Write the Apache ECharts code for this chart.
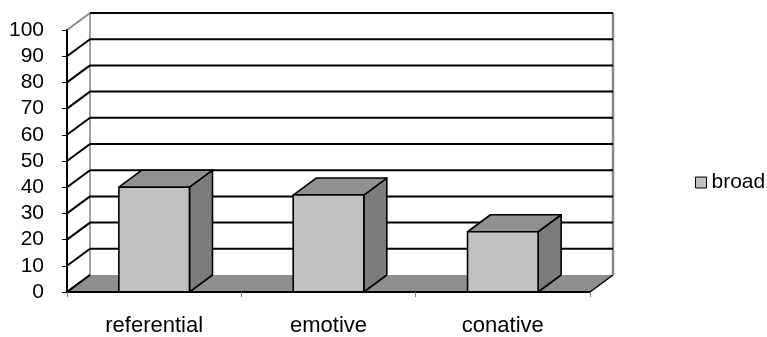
<!DOCTYPE html>
<html>
<head>
<meta charset="utf-8">
<script src="https://cdn.jsdelivr.net/npm/echarts@6/dist/echarts.min.js"></script>
<style>
  html, body { margin: 0; padding: 0; background: #fff; }
  #chart { width: 767px; height: 337px; }
</style>
</head>
<body>
<div id="chart"></div>
<script>
// Chart data
const categories = ['referential', 'emotive', 'conative'];
const broad = [40, 37, 23];
const yTicks = [0, 10, 20, 30, 40, 50, 60, 70, 80, 90, 100];
const seriesName = 'broad';

// Oblique depth of the 3D box (pixels)
const DX = 23;
const DY = -17;
const FONT = '"Liberation Sans", Arial, sans-serif';

const COLORS = {
  front: '#c0c0c0',
  top: '#909090',
  side: '#7c7c7c',
  floor: '#8e8e8e',
  wallEdge: '#8a8a8a'
};

function gridBox(params) {
  const cs = params.coordSys;
  return { x0: cs.x, x1: cs.x + cs.width, yTop: cs.y, yBot: cs.y + cs.height };
}

// Back wall and left side wall
function renderWalls(params, api) {
  const b = gridBox(params);
  return {
    type: 'group',
    children: [
      { type: 'polygon', shape: { points: [[b.x0 + DX, b.yTop + DY], [b.x1 + DX, b.yTop + DY], [b.x1 + DX, b.yBot + DY], [b.x0 + DX, b.yBot + DY]] },
        style: { fill: '#fff' } },
      { type: 'polygon', shape: { points: [[b.x0, b.yTop], [b.x0 + DX, b.yTop + DY], [b.x0 + DX, b.yBot + DY], [b.x0, b.yBot]] },
        style: { fill: '#fff' } },
      { type: 'line', shape: { x1: b.x0 + DX, y1: b.yTop + DY, x2: b.x0 + DX, y2: b.yBot + DY },
        style: { stroke: '#a0a0a0', lineWidth: 2 } },
      { type: 'line', shape: { x1: b.x1 + DX, y1: b.yTop + DY, x2: b.x1 + DX, y2: b.yBot + DY },
        style: { stroke: COLORS.wallEdge, lineWidth: 2.5 } }
    ]
  };
}

// Gridlines: diagonal across the side wall, then across the back wall
function renderGridline(params, api) {
  const b = gridBox(params);
  const v = api.value(1);
  const y = api.coord([0, v])[1];
  const children = [
    { type: 'line', shape: { x1: b.x0, y1: y, x2: b.x0 + DX, y2: y + DY },
      style: { stroke: v === yTicks[yTicks.length - 1] ? '#8a8a8a' : '#000', lineWidth: 2 } }
  ];
  if (v !== yTicks[0]) {
    children.push({ type: 'line', shape: { x1: b.x0 + DX, y1: y + DY, x2: b.x1 + DX, y2: y + DY },
      style: { stroke: '#000', lineWidth: 2 } });
  }
  return { type: 'group', children: children };
}

// Floor slab
function renderFloor(params, api) {
  const b = gridBox(params);
  return {
    type: 'group',
    children: [
      { type: 'polygon', shape: { points: [[b.x0, b.yBot], [b.x1, b.yBot], [b.x1 + DX, b.yBot + DY], [b.x0 + DX, b.yBot + DY]] },
        style: { fill: COLORS.floor } },
      { type: 'line', shape: { x1: b.x0, y1: b.yBot, x2: b.x0 + DX, y2: b.yBot + DY },
        style: { stroke: '#000', lineWidth: 2 } },
      { type: 'line', shape: { x1: b.x1, y1: b.yBot, x2: b.x1 + DX, y2: b.yBot + DY },
        style: { stroke: '#000', lineWidth: 1.5 } }
    ]
  };
}

// 3D box bar: front face, top face, right side face
function renderBar(params, api) {
  const idx = api.value(0);
  const v = api.value(1);
  const base = api.coord([idx, 0]);
  const top = api.coord([idx, v]);
  const band = api.size([1, 0])[0];
  const w = band * 0.405;
  const xl = base[0] - w / 2;
  const xr = xl + w;
  const yt = top[1];
  const yb = base[1];
  const stroke = { stroke: '#000', lineWidth: 1.6, lineJoin: 'round' };
  return {
    type: 'group',
    children: [
      { type: 'polygon', shape: { points: [[xr, yt], [xr + DX, yt + DY], [xr + DX, yb + DY], [xr, yb]] },
        style: Object.assign({ fill: COLORS.side }, stroke) },
      { type: 'polygon', shape: { points: [[xl, yt], [xr, yt], [xr + DX, yt + DY], [xl + DX, yt + DY]] },
        style: Object.assign({ fill: COLORS.top }, stroke) },
      { type: 'rect', shape: { x: xl, y: yt, width: w, height: yb - yt },
        style: Object.assign({ fill: COLORS.front }, stroke) }
    ]
  };
}

const chart = echarts.init(document.getElementById('chart'), null, { renderer: 'canvas' });

chart.setOption({
  animation: false,
  backgroundColor: '#fff',
  textStyle: { fontFamily: FONT },
  grid: { left: 67, right: 177, top: 30, bottom: 45, containLabel: false },
  legend: {
    left: 690,
    top: 167,
    itemWidth: 11,
    itemHeight: 11,
    selectedMode: false,
    textStyle: { fontSize: 21, color: '#000', fontFamily: FONT },
    data: [{ name: seriesName, icon: 'rect',
      itemStyle: { color: COLORS.front, borderColor: '#000', borderWidth: 1 } }]
  },
  xAxis: {
    type: 'category',
    data: categories,
    z: 10,
    axisLine: { lineStyle: { color: '#000', width: 2 } },
    axisTick: { show: true, length: 5, lineStyle: { color: '#808080', width: 1 } },
    axisLabel: { fontSize: 22, color: '#000', margin: 23, fontFamily: FONT },
    splitLine: { show: false }
  },
  yAxis: {
    type: 'value',
    min: 0,
    max: 100,
    interval: 10,
    z: 10,
    axisLine: { show: true, lineStyle: { color: '#000', width: 2 } },
    axisTick: { show: true, length: 5, lineStyle: { color: '#000', width: 1 } },
    axisLabel: { fontSize: 21, color: '#000', margin: 23, fontFamily: FONT },
    splitLine: { show: false }
  },
  series: [
    { name: 'walls', type: 'custom', silent: true, clip: false, renderItem: renderWalls, data: [[0, 0]] },
    { name: 'gridlines', type: 'custom', silent: true, clip: false, renderItem: renderGridline,
      data: yTicks.map(function (t) { return [0, t]; }) },
    { name: 'floor', type: 'custom', silent: true, clip: false, renderItem: renderFloor, data: [[0, 0]] },
    { name: seriesName, type: 'custom', clip: false, renderItem: renderBar,
      itemStyle: { color: COLORS.front, borderColor: '#000', borderWidth: 1 },
      data: categories.map(function (c, i) { return [i, broad[i]]; }) }
  ]
});
</script>
</body>
</html>
